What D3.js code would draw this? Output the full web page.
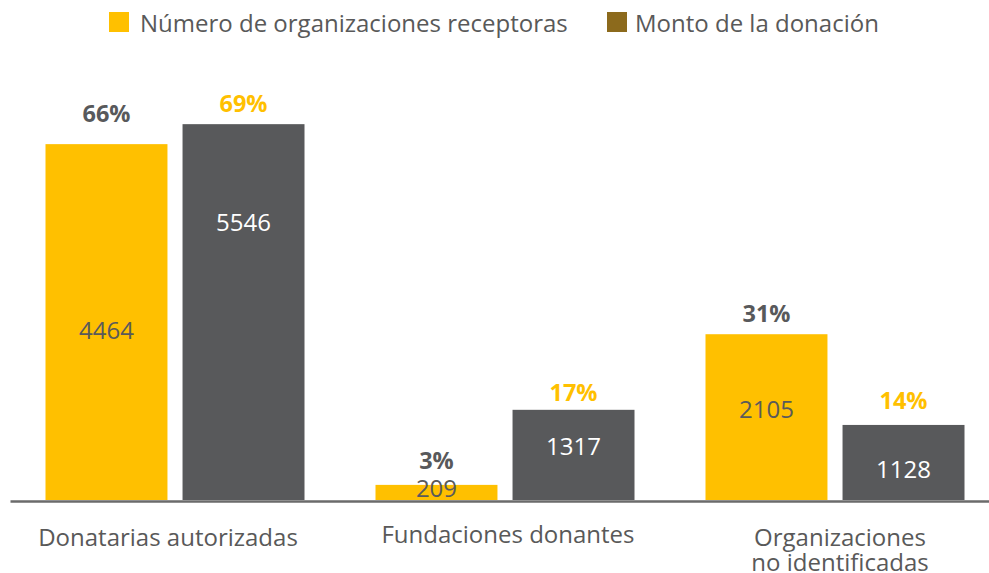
<!DOCTYPE html>
<html>
<head>
<meta charset="utf-8">
<script src="https://cdn.jsdelivr.net/npm/d3@7"></script>
<style>
  body { margin: 0; background: #fff; }
  text { font-family: "Open Sans", sans-serif; }
</style>
</head>
<body>
<div id="chart"></div>
<script>
// data
var categories = ["Donatarias autorizadas", "Fundaciones donantes", "Organizaciones\nno identificadas"];
var seriesNames = ["Número de organizaciones receptoras", "Monto de la donación"];
var orgCounts = [4464, 209, 2105];
var orgShare = [65.9, 2.8, 30.7];
var orgShareLabels = ["66%", "3%", "31%"];
var donationValues = [5546, 1317, 1128];
var donationShare = [69.6, 16.7, 13.9];
var donationShareLabels = ["69%", "17%", "14%"];

// hand-placed label nudges seen in the picture (px)
var pctGap = [[22, 12], [16, 9], [12, 16]];
var valueNudge = [[9, -89], [-4, -8], [-8, 7]];
var catNudge = [-7, 3, 5];

var svgWidth = 989;
var svgHeight = 573;
var baseY = 500;

var yellow = "#FFC000";
var gray = "#58595B";
var legendColors = [yellow, "#8C6A1C"];

var svg = d3.select("#chart")
  .append("svg")
  .attr("width", svgWidth)
  .attr("height", svgHeight);

var x0 = d3.scaleBand()
  .domain(categories)
  .range([10, 1000])
  .padding(0);

var x1 = d3.scaleBand()
  .domain([0, 1])
  .range([(x0.bandwidth() - 259) / 2, (x0.bandwidth() + 259) / 2])
  .paddingInner(0.11);

var y = d3.scaleLinear()
  .domain([0, 100])
  .range([baseY, baseY - 540]);

var rows = categories.map(function(c, i) {
  return [
    { cat: c, i: i, s: 0, share: orgShare[i], label: orgShareLabels[i], value: orgCounts[i] },
    { cat: c, i: i, s: 1, share: donationShare[i], label: donationShareLabels[i], value: donationValues[i] }
  ];
});

var groups = svg.selectAll("g.group")
  .data(rows)
  .enter()
  .append("g")
  .attr("class", "group")
  .attr("transform", function(d, i) { return "translate(" + x0(categories[i]) + ",0)"; });

var bars = groups.selectAll("g.bar")
  .data(function(d) { return d; })
  .enter()
  .append("g")
  .attr("class", "bar");

bars.append("rect")
  .attr("x", function(d) { return x1(d.s); })
  .attr("y", function(d) { return y(d.share); })
  .attr("width", x1.bandwidth())
  .attr("height", function(d) { return baseY - y(d.share); })
  .attr("fill", function(d) { return d.s === 0 ? yellow : gray; });

// percentage on top
bars.append("text")
  .attr("x", function(d) { return x1(d.s) + x1.bandwidth() / 2; })
  .attr("y", function(d) { return y(d.share) - pctGap[d.i][d.s]; })
  .attr("text-anchor", "middle")
  .attr("font-size", "23.5px")
  .attr("font-weight", "bold")
  .attr("fill", function(d) { return d.s === 0 ? gray : yellow; })
  .text(function(d) { return d.label; });

// value inside the bar
bars.append("text")
  .attr("x", function(d) { return x1(d.s) + x1.bandwidth() / 2; })
  .attr("y", function(d) { return (y(d.share) + baseY) / 2 + valueNudge[d.i][d.s]; })
  .attr("dy", "0.35em")
  .attr("text-anchor", "middle")
  .attr("font-size", "24px")
  .attr("fill", function(d) { return d.s === 0 ? "#5a5a5a" : "#ffffff"; })
  .text(function(d) { return d.value; });

// x axis
var axis = svg.append("g")
  .attr("transform", "translate(0," + (baseY + 1) + ")")
  .call(d3.axisBottom(x0).tickSize(0).tickFormat(""));

axis.select(".domain")
  .attr("stroke", "#6b6b6b")
  .attr("stroke-width", 2.5);

axis.selectAll(".tick").each(function(c, i) {
  var lines = c.split("\n");
  var t = d3.select(this).append("text")
    .attr("fill", "#595959")
    .attr("font-size", "24px")
    .attr("text-anchor", "middle")
    .attr("y", c === "Fundaciones donantes" ? 42 : 45);
  lines.forEach(function(l, k) {
    t.append("tspan")
      .attr("x", catNudge[i])
      .attr("dy", k === 0 ? 0 : 25)
      .text(l);
  });
});

// legend
var legendX = [109, 607];
var legend = svg.selectAll("g.legend")
  .data(seriesNames)
  .enter()
  .append("g")
  .attr("class", "legend")
  .attr("transform", function(d, i) { return "translate(" + legendX[i] + ",12)"; });

legend.append("rect")
  .attr("width", 20)
  .attr("height", 20)
  .attr("fill", function(d, i) { return legendColors[i]; });

legend.append("text")
  .attr("x", function(d, i) { return i === 0 ? 31 : 28; })
  .attr("y", 20)
  .attr("font-size", "24px")
  .attr("fill", "#595959")
  .text(function(d) { return d; });
</script>
</body>
</html>
